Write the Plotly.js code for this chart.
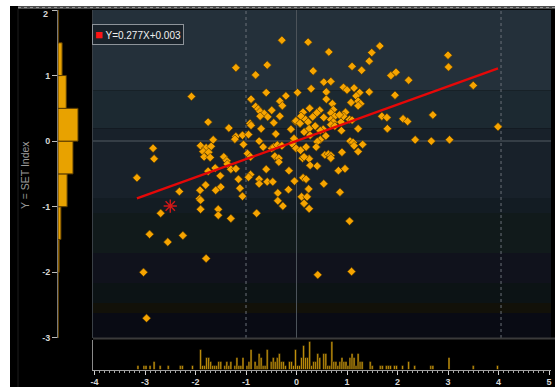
<!DOCTYPE html>
<html>
<head>
<meta charset="utf-8">
<script src="https://cdn.plot.ly/plotly-3.0.1.min.js"></script>
<style>
  html, body { margin:0; padding:0; background:#ffffff; width:555px; height:387px; overflow:hidden; }
  #chart { position:absolute; left:10px; top:6px; width:545px; height:381px; }
</style>
</head>
<body>
<div id="chart"></div>
<script>
// ---- data ----
const xVals = [
  -2.84,-2.82,-3.16,-2.32,-2.69,-2.91,-2.55,-2.25,-3.03,-2.97,
  -0.29,-1.20,-0.58,-0.81,-2.08,-0.60,0.02,-0.21,-0.90,-0.33,-0.28,-0.81,-0.76,-0.72,-0.49,-0.64,-0.57,-0.72,-0.33,-0.45,-1.75,-0.92,-0.90,-0.02,-1.34,-0.70,-0.11,
  0.23,0.64,1.65,1.49,1.44,1.10,1.29,0.33,1.87,1.97,0.54,0.68,0.29,0.93,1.00,1.14,1.25,1.44,0.59,1.95,1.18,0.59,1.08,1.22,1.27,1.22,0.71,0.26,0.46,0.40,0.13,0.09,0.18,0.73,0.68,0.76,0.97,0.93,0.85,0.32,0.54,0.68,0.73,0.68,0.76,-0.01,0.07,0.23,0.88,1.05,1.10,1.69,1.79,0.37,0.25,1.22,1.80,0.53,
  -1.65,-1.20,-1.22,-1.07,-0.95,-0.74,-0.41,-1.05,-0.66,-0.49,-0.45,-0.38,-0.29,-0.04,-0.09,-1.90,-1.79,-1.69,-1.85,-1.74,-1.83,-1.71,-1.44,-1.38,-1.37,-0.97,-0.91,-0.43,-0.35,-0.35,-1.61,-1.75,-1.30,-1.20,-0.60,-0.15,-1.51,-0.91,-0.95,-1.15,-0.74,-0.74,-0.58,-0.47,-0.04,-1.80,-1.50,-1.12,-0.37,-0.16,-1.91,-1.60,-1.07,-1.92,-1.90,-0.37,-0.27,-1.90,-1.55,-1.55,-0.79,-1.30,
  0.15,0.47,0.27,0.58,-0.05,0.89,0.47,0.41,0.19,0.39,-0.01,0.08,1.06,1.12,1.14,1.31,0.90,1.22,0.56,0.63,0.68,0.68,0.12,0.25,0.15,0.27,0.41,0.83,0.96,0.13,0.19,0.54,0.24,0.86,0.10,0.21,0.15,0.25,1.05,
  -1.79,0.42,1.09,
  3.00,3.01,2.22,3.50,2.70,2.11,2.20,3.99,2.35,2.67,3.03
];
const yVals = [
  -0.11,-0.27,-0.56,-0.77,-1.10,-1.42,-1.54,-1.44,-2.00,-2.70,
  1.54,1.12,1.16,1.01,0.68,0.74,0.74,0.69,0.64,0.61,0.54,0.53,0.49,0.45,0.47,0.42,0.37,0.38,0.38,0.28,0.29,0.27,0.24,0.30,0.20,0.19,0.18,
  1.51,1.36,1.45,1.35,1.22,1.14,1.08,1.07,1.00,1.05,0.90,0.91,0.80,0.82,0.78,0.81,0.74,0.75,0.75,0.70,0.69,0.64,0.59,0.61,0.57,0.54,0.57,0.50,0.47,0.43,0.44,0.38,0.33,0.48,0.43,0.38,0.44,0.38,0.40,0.37,0.36,0.33,0.29,0.25,0.23,0.31,0.27,0.29,0.29,0.33,0.32,0.38,0.36,0.23,0.19,0.19,0.19,0.18,
  0.02,0.07,0.03,0.09,0.10,0.00,0.11,-0.05,-0.09,-0.11,-0.09,-0.06,-0.07,0.02,-0.04,-0.07,-0.10,-0.08,-0.16,-0.17,-0.24,-0.25,-0.24,-0.30,-0.35,-0.19,-0.24,-0.23,-0.26,-0.32,-0.41,-0.46,-0.43,-0.42,-0.43,-0.45,-0.53,-0.51,-0.55,-0.58,-0.58,-0.65,-0.62,-0.62,-0.61,-0.67,-0.70,-0.72,-0.79,-0.74,-0.75,-0.75,-0.84,-0.88,-0.90,-0.91,-0.99,-1.04,-1.04,-1.13,-1.10,-1.18,
  0.14,0.16,0.09,0.08,0.04,0.16,0.02,-0.01,-0.09,-0.09,-0.11,-0.14,0.00,-0.02,-0.07,-0.05,-0.17,-0.16,-0.21,-0.20,-0.22,-0.26,-0.26,-0.27,-0.24,-0.37,-0.38,-0.45,-0.42,-0.56,-0.58,-0.65,-0.73,-0.78,-0.85,-0.85,-0.95,-1.03,-1.22,
  -1.79,-2.04,-1.99,
  1.31,1.13,0.93,0.85,0.40,0.34,0.30,0.22,0.02,0.00,0.02
];
const latestX = [-2.50];
const latestY = [-0.99];
const slope = 0.277;
const intercept = 0.003;
const yTickVals = [-3, -2, -1, 0, 1, 2];
const xTickVals = [-4, -3, -2, -1, 0, 1, 2, 3, 4, 5];
const yTitle = 'Y = SET Index';

// ---- regression line through library scales ----
const xMin = Math.min(...xVals), xMax = Math.max(...xVals);
const lineX = [xMin, xMax];
const lineY = lineX.map(v => slope * v + intercept);

// ---- style ----
const X_RANGE = [-4.03, 5.04];
const Y_RANGE = [-3.003, 2.0];
const MAIN_X_DOM = [0.1523, 0.9927];
const MAIN_Y_DOM = [0.1286, 0.9895];
const bands = [
  [2.0, 0.777, '#24303a'],
  [0.777, 0.198, '#1c2931'],
  [0.198, -0.869, '#18212a'],
  [-0.869, -1.098, '#131c23'],
  [-1.098, -1.707, '#111a1b'],
  [-1.707, -2.165, '#10121c'],
  [-2.165, -2.47, '#0c1315'],
  [-2.47, -2.62, '#121109'],
  [-2.62, -3.003, '#090b14']
];

// left histogram scale (width of tallest bin ~20px of 34px panel)
const binCount = {};
yVals.forEach(v => { const k = Math.floor(v / 0.5); binCount[k] = (binCount[k] || 0) + 1; });
const maxBin = Math.max(...Object.values(binCount));

const tickFont = {family:'Liberation Sans, Arial, sans-serif', size:9, color:'#d6d6d6', weight:'bold'};

const traces = [
  {
    type:'scatter', mode:'markers', x:xVals, y:yVals, xaxis:'x', yaxis:'y',
    marker:{symbol:'diamond', size:6.5, color:'#f6a400', line:{color:'#4a3200', width:0.6}},
    hoverinfo:'skip'
  },
  {
    type:'scatter', mode:'lines', x:lineX, y:lineY, xaxis:'x', yaxis:'y',
    line:{color:'#e50808', width:2.4}, hoverinfo:'skip'
  },
  {
    type:'scatter', mode:'markers', x:latestX, y:latestY, xaxis:'x', yaxis:'y',
    marker:{symbol:'asterisk-open', size:11, color:'#d01818', line:{color:'#d01818', width:1.4}},
    hoverinfo:'skip'
  },
  {
    type:'histogram', y:yVals, xaxis:'x3', yaxis:'y', orientation:'h',
    ybins:{start:-3, end:2, size:0.5},
    marker:{color:'#e8a200', line:{color:'#5a3c00', width:1}}, hoverinfo:'skip'
  },
  {
    type:'histogram', x:xVals, xaxis:'x2', yaxis:'y2',
    xbins:{start:-4, end:5, size:0.04},
    marker:{color:'#bf8f0c', line:{color:'#000000', width:0.5}}, hoverinfo:'skip'
  }
];

const shapes = [];
bands.forEach(b => shapes.push({
  type:'rect', xref:'x domain', yref:'y', x0:0, x1:1, y0:b[1], y1:b[0],
  fillcolor:b[2], line:{width:0}, layer:'below'
}));
shapes.push({type:'line', xref:'x domain', yref:'y', x0:0, x1:1, y0:0, y1:0, line:{color:'#353e46', width:2}, layer:'below'});
shapes.push({type:'line', xref:'x', yref:'y domain', x0:0, x1:0, y0:0, y1:1, line:{color:'#4c535a', width:1}, layer:'below'});
shapes.push({type:'line', xref:'x', yref:'y domain', x0:-1, x1:-1, y0:0, y1:1, line:{color:'#6a7078', width:1, dash:'dot'}, layer:'below'});
shapes.push({type:'line', xref:'x', yref:'y domain', x0:4.05, x1:4.05, y0:0, y1:1, line:{color:'#6a7078', width:1, dash:'dot'}, layer:'below'});
// frame pieces
shapes.push({type:'line', xref:'paper', yref:'paper', x0:0.1514, x1:0.1514, y0:MAIN_Y_DOM[0], y1:MAIN_Y_DOM[1], line:{color:'#3a4046', width:1}});
shapes.push({type:'line', xref:'paper', yref:'paper', x0:MAIN_X_DOM[0], x1:1, y0:0.1273, y1:0.1273, line:{color:'#3a3a3a', width:2}});
shapes.push({type:'rect', xref:'paper', yref:'paper', x0:0.0147, x1:1, y0:0.9921, y1:1, fillcolor:'#4d4d4d', line:{width:0}});
shapes.push({type:'line', xref:'paper', yref:'paper', x0:0.0147, x1:1, y0:0.996, y1:0.996, line:{color:'#9a9a9a', width:1, dash:'dot'}});
shapes.push({type:'line', xref:'paper', yref:'paper', x0:0.0147, x1:0.0147, y0:0, y1:0.992, line:{color:'#1c1c1c', width:1}});

const layout = {
  width:545, height:381,
  margin:{l:0, r:0, t:0, b:0, pad:0},
  paper_bgcolor:'#000000', plot_bgcolor:'rgba(0,0,0,0)',
  showlegend:false, bargap:0,
  font:{family:'Liberation Sans, Arial, sans-serif'},
  xaxis:{domain:MAIN_X_DOM, range:X_RANGE, anchor:'y', showticklabels:false, ticks:'', showgrid:false, zeroline:false, showline:false, fixedrange:true},
  yaxis:{domain:MAIN_Y_DOM, range:Y_RANGE, anchor:'x3', tickmode:'array', tickvals:yTickVals,
         ticktext:yTickVals.map(v => v === 2 ? '' : String(v)),
         ticks:'outside', ticklen:5, tickcolor:'#bdbdbd', tickwidth:1, tickfont:tickFont,
         showgrid:false, zeroline:false, showline:true, linecolor:'#7a7a7a', linewidth:1, fixedrange:true},
  xaxis2:{domain:MAIN_X_DOM, range:X_RANGE, anchor:'y2', tickmode:'array', tickvals:xTickVals, ticktext:xTickVals.map(String),
          ticks:'outside', ticklen:4, tickcolor:'#cfcfcf', tickwidth:1, tickfont:tickFont,
          minor:{dtick:0.1, tick0:0, ticks:'outside', ticklen:2.5, tickcolor:'#a8a8a8', showgrid:false},
          showgrid:false, zeroline:false, showline:true, linecolor:'#a0a0a0', linewidth:1, fixedrange:true},
  yaxis2:{domain:[0.0459, 0.1234], anchor:'x2', rangemode:'tozero', showticklabels:false, ticks:'', showgrid:false, zeroline:false,
          showline:true, linecolor:'#8a8a8a', linewidth:1, fixedrange:true},
  xaxis3:{domain:[0.0881, 0.1505], anchor:'y', range:[0, maxBin * 34 / 20], showticklabels:false, ticks:'', showgrid:false, zeroline:false, showline:false, fixedrange:true},
  shapes:shapes,
  annotations:[
    {
      xref:'paper', yref:'y', x:0.0737, y:yTickVals[yTickVals.length - 1], xanchor:'right', yanchor:'middle', yshift:-4, showarrow:false,
      text:String(yTickVals[yTickVals.length - 1]), font:tickFont
    },
    {
      xref:'paper', yref:'paper', x:0.1505, y:0.9528, xanchor:'left', yanchor:'top', showarrow:false,
      text:'<span style="color:#ff1414;font-size:13px">■</span> Y=' + slope.toFixed(3) + 'X+' + intercept.toFixed(3),
      font:{family:'Liberation Sans, Arial, sans-serif', size:10, color:'#f0f0f0'},
      bgcolor:'#1a232b', bordercolor:'#8e949a', borderwidth:1, borderpad:2, align:'left'
    },
    {
      xref:'paper', yref:'paper', x:0.0275, y:0.5564, xanchor:'center', yanchor:'middle', showarrow:false,
      text:yTitle, textangle:-90,
      font:{family:'Liberation Sans Narrow, Liberation Sans, Arial, sans-serif', size:10.5, color:'#9a9a9a'}
    }
  ]
};

Plotly.newPlot('chart', traces, layout, {staticPlot:true, displayModeBar:false});
</script>
</body>
</html>
